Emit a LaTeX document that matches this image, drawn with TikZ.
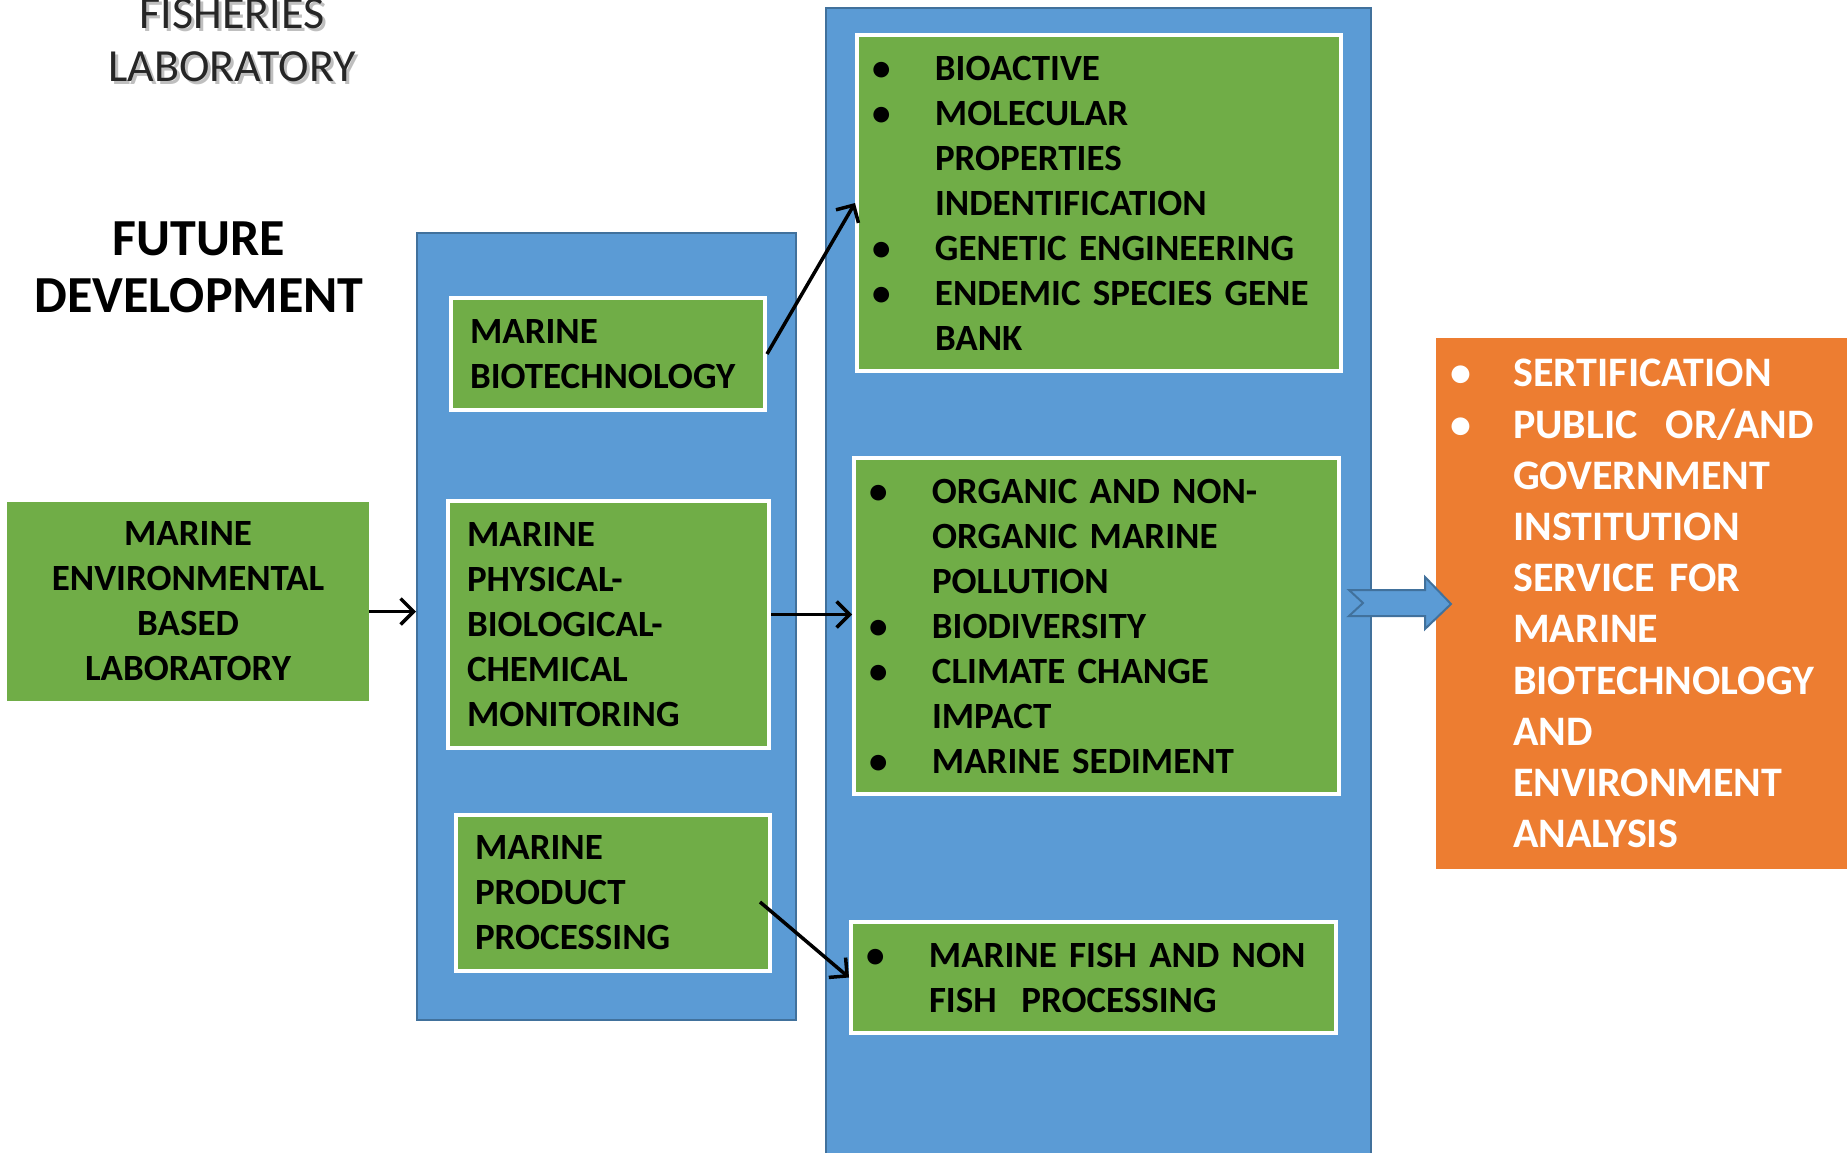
\documentclass[tikz,border=0pt]{standalone}
\usepackage{fontspec}
\setmainfont{Carlito}
\usetikzlibrary{arrows.meta}
\definecolor{colblue}{HTML}{5B9BD5}
\definecolor{coledge}{HTML}{41719C}
\definecolor{boxgreen}{HTML}{70AD47}
\definecolor{boxorange}{HTML}{ED7D31}
\newcommand{\bl}{\makebox[59pt][l]{\hspace*{-4pt}\textbullet}}
\newcommand{\nb}{\hspace*{59pt}}
\newcommand{\obl}{\makebox[60pt][l]{\hspace*{-3pt}\textbullet}}
\newcommand{\onb}{\hspace*{60pt}}

\begin{document}
\begin{tikzpicture}[x=1pt, y=-1pt,
    column/.style={fill=colblue, draw=coledge, line width=2pt, anchor=north west, inner sep=0pt},
    greenbox/.style={fill=boxgreen, draw=white, line width=4pt, anchor=north west, inner xsep=19pt, inner ysep=0pt,
        align=left, font=\fontsize{37}{45}\selectfont\bfseries},
    link/.style={line width=3.5pt, -{Straight Barb[length=13pt,width=26pt]}}]
    \useasboundingbox (0,0) rectangle (1847,1153);

    % Titles
    \node[anchor=base, align=center, text=black!25, font=\fontsize{46}{53}\selectfont] (titleshade) at (235,85) {FISHERIES\\LABORATORY};
    \node[anchor=base, align=center, text=black!85, font=\fontsize{46}{53}\selectfont] (title) at (232,82) {FISHERIES\\LABORATORY};
    \node[anchor=base, align=center, font=\fontsize{52}{57}\selectfont\bfseries] (future) at (199,312) {FUTURE\\DEVELOPMENT};

    % Blue columns
    \node[column, minimum width=379pt, minimum height=787pt] (midcol) at (416,232) {};
    \node[column, minimum width=545pt, minimum height=1170pt] (rightcol) at (825,7) {};

    % Green boxes
    \node[greenbox, draw=boxgreen, align=center, text width=320pt, minimum height=195pt] (env) at (7,502)
        {MARINE\\ENVIRONMENTAL\\BASED\\LABORATORY};
    \node[greenbox, text width=276pt, minimum height=112pt] (bio) at (449,296)
        {MARINE\\BIOTECHNOLOGY};
    \node[greenbox, text width=283pt, minimum height=247pt] (phys) at (446,499)
        {MARINE\\PHYSICAL-\\BIOLOGICAL-\\CHEMICAL\\MONITORING};
    \node[greenbox, text width=276pt, minimum height=156pt] (prod) at (454,813)
        {MARINE\\PRODUCT\\PROCESSING};
    \node[greenbox, text width=446pt, minimum height=336pt] (props) at (855,33)
        {\bl BIOACTIVE\\\bl MOLECULAR\\\nb PROPERTIES\\\nb INDENTIFICATION\\\bl GENETIC ENGINEERING\\\bl ENDEMIC SPECIES GENE\\\nb BANK};
    \node[greenbox, text width=447pt, minimum height=336pt] (pollut) at (852,456)
        {\bl ORGANIC AND NON-\\\nb ORGANIC MARINE\\\nb POLLUTION\\\bl BIODIVERSITY\\\bl CLIMATE CHANGE\\\nb IMPACT\\\bl MARINE SEDIMENT};
    \node[greenbox, text width=447pt, minimum height=111pt] (fish) at (849,920)
        {\bl MARINE FISH AND NON\\\nb FISH\ \ PROCESSING};

    % Service box
    \node[fill=boxorange, anchor=north west, inner xsep=17pt, inner ysep=0pt, text width=396pt, minimum height=531pt,
        align=left, text=white, font=\fontsize{42}{51.2}\selectfont\bfseries] (service) at (1436,338)
        {\obl SERTIFICATION\\\obl PUBLIC\ \ OR/AND\\\onb GOVERNMENT\\\onb INSTITUTION\\\onb SERVICE FOR\\\onb MARINE\\\onb BIOTECHNOLOGY\\\onb AND\\\onb ENVIRONMENT\\\onb ANALYSIS};

    % Connectors
    \draw[link] ([yshift=-10pt]env.east) -- ([yshift=-10pt]env.east -| midcol.west);
    \draw[link] (bio.east) -- (props.west);
    \draw[link] ([yshift=10pt]phys.east) -- ([yshift=10pt]phys.east -| pollut.west);
    \draw[link] ([xshift=-12pt,yshift=-9pt]prod.east) -- (fish.west);

    % Block arrow into the service box
    \draw[fill=colblue, draw=coledge, line width=2pt, line join=miter]
        (1349,590) -- (1425,590) -- (1425,577) -- (1451,604) -- (1425,629) -- (1425,616) -- (1349,616) -- (1363,603) -- cycle;
\end{tikzpicture}
\end{document}
